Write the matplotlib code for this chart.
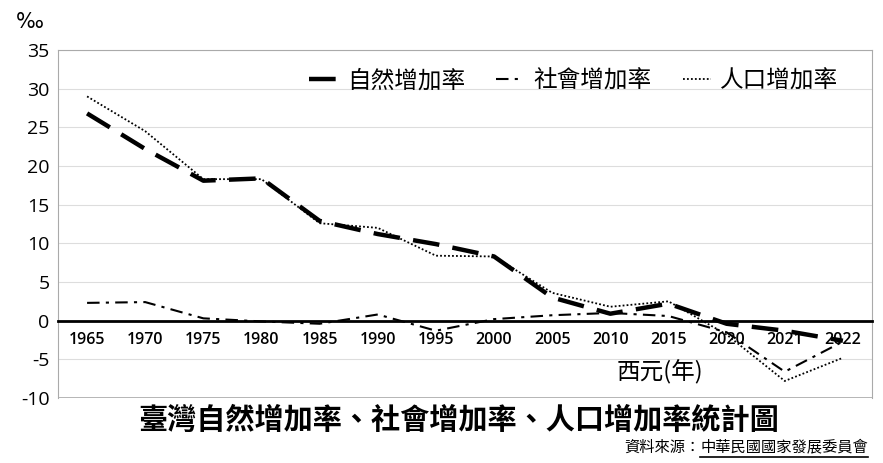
import numpy as np
import matplotlib.pyplot as plt
from matplotlib.lines import Line2D

plt.rcParams['font.family'] = ['Noto Sans CJK TC', 'DejaVu Sans']

# Data (per mille)
years = ['1965', '1970', '1975', '1980', '1985', '1990', '1995', '2000',
         '2005', '2010', '2015', '2020', '2021', '2022']
natural = [26.8, 22.2, 18.1, 18.4, 12.9, 11.2, 9.9, 8.3, 3.0, 0.9, 2.2, -0.4, -1.3, -2.6]
social = [2.3, 2.4, 0.3, -0.1, -0.4, 0.8, -1.3, 0.2, 0.7, 1.0, 0.6, -1.5, -6.6, -2.7]
population = [29.0, 24.5, 18.3, 18.3, 12.6, 12.0, 8.4, 8.3, 3.6, 1.8, 2.5, -1.8, -7.8, -4.8]

labels = ['自然增加率', '社會增加率', '人口增加率']

fig = plt.figure(figsize=(8.83, 4.63), dpi=100)
ax = fig.add_axes([0.0657, 0.1404, 0.9218, 0.7516])

x = np.arange(len(years))
ax.plot(x, natural, color='black', lw=3.2, dashes=(6, 3), label=labels[0])
ax.plot(x, social, color='black', lw=1.5, dashes=(6, 3, 1.5, 3), label=labels[1])
ax.plot(x, population, color='black', lw=1.3, dashes=(1, 1.2), label=labels[2])

ax.set_xlim(-0.5, len(years) - 0.5)
ax.set_ylim(-10, 35)
ax.set_yticks(np.arange(-10, 36, 5))
ax.set_yticklabels([str(v) for v in range(-10, 36, 5)],
                   family=['Open Sans', 'DejaVu Sans'], fontsize=14)
ax.yaxis.grid(True, color='#dddddd', lw=0.8)
ax.set_axisbelow(True)

# zero line carries the year labels
ax.spines['bottom'].set_position(('data', 0))
ax.spines['bottom'].set_color('black')
ax.spines['bottom'].set_linewidth(2)
ax.set_xticks(x)
ax.set_xticklabels(years, family=['Open Sans', 'DejaVu Sans'],
                   fontsize=11.5, fontweight='semibold')
ax.tick_params(axis='x', length=0, pad=8)
ax.tick_params(axis='y', length=0, pad=6)
for side in ['left', 'top', 'right']:
    ax.spines[side].set_color('#aaaaaa')
    ax.spines[side].set_linewidth(0.8)
ax.axhline(-10, color='#aaaaaa', lw=1.2)

leg = ax.legend(loc='upper right', ncol=3, frameon=False, fontsize=17,
                handlelength=1.2, columnspacing=1.3, handletextpad=0.4,
                bbox_to_anchor=(0.985, 1.005))

ax.text(0.74, 0.075, '西元(年)', transform=ax.transAxes, fontsize=17,
        ha='center', va='center')

fig.text(0.034, 0.952, '‰', fontsize=15, ha='center', va='center',
         family=['DejaVu Sans'])

fig.text(0.52, 0.092, '臺灣自然增加率、社會增加率、人口增加率統計圖',
         fontsize=21, fontweight='bold', ha='center', va='center')

t1 = fig.text(0.793, 0.035, '資料來源：', fontsize=11, ha='right', va='center')
t2 = fig.text(0.793, 0.035, '中華民國國家發展委員會', fontsize=11,
              ha='left', va='center')

fig.canvas.draw()
bb = t2.get_window_extent().transformed(fig.transFigure.inverted())
fig.add_artist(Line2D([bb.x0, bb.x1], [bb.y0 - 0.004, bb.y0 - 0.004],
                      color='black', lw=1.2, transform=fig.transFigure))

fig.savefig('out.png', dpi=100)
